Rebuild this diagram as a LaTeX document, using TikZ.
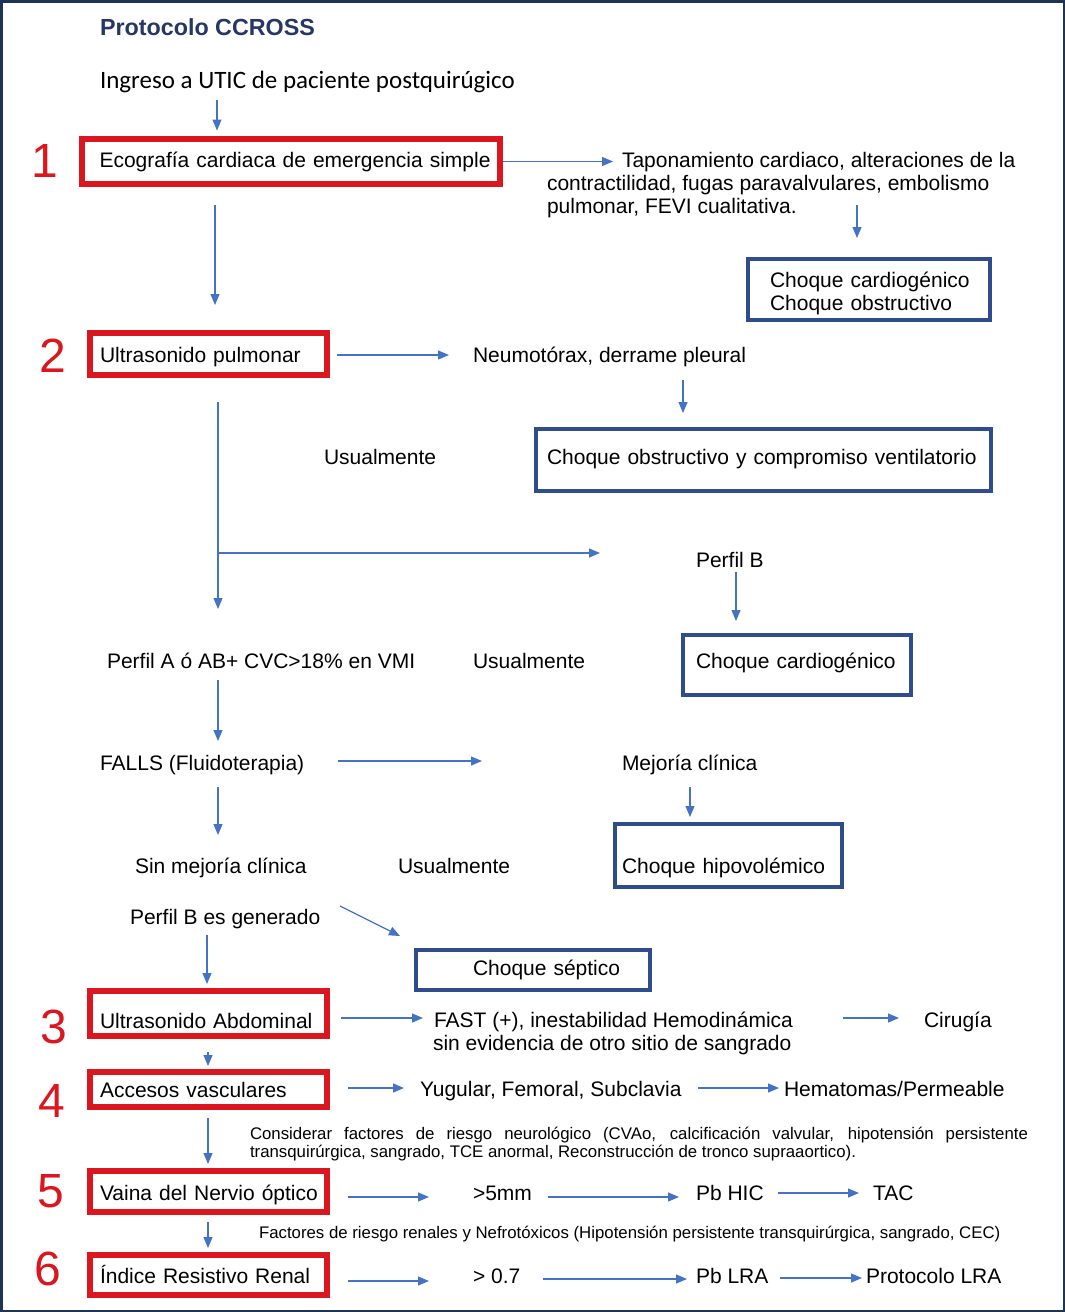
\documentclass[tikz,border=0pt]{standalone}
\usepackage{fontspec}
\setmainfont{Liberation Sans}
\newfontfamily\carlito{Carlito}
\usetikzlibrary{arrows.meta}
\definecolor{redb}{RGB}{218,22,30}
\definecolor{blueb}{RGB}{47,77,140}
\definecolor{arrc}{RGB}{68,114,196}
\definecolor{navy}{RGB}{38,55,100}
\definecolor{framec}{RGB}{30,52,85}
\begin{document}
\begin{tikzpicture}[x=1pt,y=-1pt,
  txt/.style={anchor=west, inner sep=0pt, outer sep=0pt, text height=15pt, text depth=0pt, font=\fontsize{21}{23}\selectfont},
  num/.style={anchor=base, inner sep=0pt, outer sep=0pt, text=redb, font=\fontsize{48}{48}\selectfont},
  redbox/.style={draw=redb, line width=6pt, inner ysep=0pt, outer sep=0pt, align=left, font=\fontsize{21}{23}\selectfont, text depth=0pt},
  bluebox/.style={draw=blueb, line width=4pt, inner ysep=0pt, outer sep=0pt, align=left, font=\fontsize{21}{23}\selectfont, text depth=0pt},
  smalltxt/.style={anchor=base west, inner sep=0pt, outer sep=0pt, font=\fontsize{16.8}{18}\selectfont},
  arr/.style={draw=arrc, line width=1.2pt, -{Triangle[length=11pt,width=9pt]}}
]
\useasboundingbox (0,0) rectangle (1065,1312);
\draw[framec, line width=2.5pt] (1.25,1.25) rectangle (1063.75,1310.75);

% title and entry
\node[txt, text height=16pt, font=\bfseries\fontsize{23.3}{26}\selectfont, text=navy] (title) at (100,27) {Protocolo CCROSS};
\node[txt, font=\carlito\fontsize{25}{28}\selectfont] (ing) at (100,81) {Ingreso a UTIC de paciente postquirúgico};

% numbers
\node[num] (n1) at (45,177) {1};
\node[num] (n2) at (53,372) {2};
\node[num] (n3) at (54,1043) {3};
\node[num] (n4) at (52,1117) {4};
\node[num] (n5) at (51,1207) {5};
\node[num] (n6) at (48,1285) {6};

% red boxes
\node[redbox, minimum width=418pt, minimum height=45pt, inner xsep=18pt, text width=382pt, text height=12pt] (b1) at (290.5,161.5) {\mbox{Ecografía cardiaca de emergencia simple}};
\node[redbox, minimum width=237pt, minimum height=42pt, inner xsep=10pt, text width=217pt, text height=18pt] (b2) at (208.5,353.5) {\mbox{Ultrasonido pulmonar}};
\node[redbox, minimum width=237pt, minimum height=45pt, inner xsep=10pt, text width=217pt, text height=29pt] (b3) at (208.5,1013.5) {\mbox{Ultrasonido Abdominal}};
\node[redbox, minimum width=237pt, minimum height=35pt, inner xsep=10pt, text width=217pt, text height=15pt] (b4) at (208.5,1089.5) {\mbox{Accesos vasculares}};
\node[redbox, minimum width=237pt, minimum height=41pt, inner xsep=10pt, text width=217pt, text height=19pt] (b5) at (208.5,1191) {\mbox{Vaina del Nervio óptico}};
\node[redbox, minimum width=237pt, minimum height=40pt, inner xsep=10pt, text width=217pt, text height=18pt] (b6) at (208.5,1274.5) {\mbox{Índice Resistivo Renal}};

% blue boxes
\node[bluebox, minimum width=242pt, minimum height=61pt, inner xsep=22pt, text width=198pt, text height=19pt, text depth=23pt] (c1) at (869,289.5) {\mbox{Choque cardiogénico}\\\mbox{Choque obstructivo}};
\node[bluebox, minimum width=455pt, minimum height=62pt, inner xsep=11pt, text width=433pt, text height=9pt] (c2) at (763.5,460) {\mbox{Choque obstructivo y compromiso ventilatorio}};
\node[bluebox, minimum width=228pt, minimum height=60pt, inner xsep=13pt, text width=202pt, text height=7pt] (c3) at (797,665) {\mbox{Choque cardiogénico}};
\node[bluebox, minimum width=227pt, minimum height=63pt, inner xsep=7pt, text width=213pt, text height=36pt] (c4) at (728.5,855.5) {\mbox{Choque hipovolémico}};
\node[bluebox, minimum width=234pt, minimum height=40pt, inner xsep=57pt, text width=120pt, text height=11pt] (c5) at (533,970) {\mbox{Choque séptico}};

% plain texts
\node[txt] (tap1) at (622,160) {Taponamiento cardiaco, alteraciones de la};
\node[txt] (tap2) at (547,183) {contractilidad, fugas paravalvulares, embolismo};
\node[txt] (tap3) at (547,206) {pulmonar, FEVI cualitativa.};
\node[txt] (neu) at (473,355) {Neumotórax, derrame pleural};
\node[txt] (us1) at (324,457) {Usualmente};
\node[txt] (pb) at (696,560) {Perfil B};
\node[txt] (pa) at (107,661) {Perfil A ó AB+ CVC>18\% en VMI};
\node[txt] (us2) at (473,661) {Usualmente};
\node[txt] (falls) at (100,763) {FALLS (Fluidoterapia)};
\node[txt] (mej) at (622,763) {Mejoría clínica};
\node[txt] (sin) at (135,866) {Sin mejoría clínica};
\node[txt] (us3) at (398,866) {Usualmente};
\node[txt] (pbg) at (130,917) {Perfil B es generado};
\node[txt] (fast) at (434,1020) {FAST (+), inestabilidad Hemodinámica};
\node[txt] (fastb) at (433,1043) {sin evidencia de otro sitio de sangrado};
\node[txt] (cir) at (924,1020) {Cirugía};
\node[txt] (yug) at (420,1089) {Yugular, Femoral, Subclavia};
\node[txt] (hem) at (784,1089) {Hematomas/Permeable};
\node[smalltxt, text width=778pt, align=justify] (cons) at (250,1139) {Considerar factores de riesgo neurológico (CVAo, calcificación valvular, hipotensión persistente\linebreak transquirúrgica, sangrado, TCE anormal, Reconstrucción de tronco supraaortico).};
\node[txt] (gt5) at (473,1193) {>5mm};
\node[txt] (hic) at (696,1193) {Pb HIC};
\node[txt] (tac) at (873,1193) {TAC};
\node[smalltxt] (fac) at (259,1238) {Factores de riesgo renales y Nefrotóxicos (Hipotensión persistente transquirúrgica, sangrado, CEC)};
\node[txt] (gt7) at (473,1276) {> 0.7};
\node[txt] (lra) at (696,1276) {Pb LRA};
\node[txt] (plra) at (866,1276) {Protocolo LRA};

% connectors
\draw[arr] ([shift={(117,11.5)}]ing.south west) -- ([shift={(135.5,-8.5)}]b1.north west);
\draw[arr] ([shift={(3,0)}]b1.east) -- ([shift={(-9,1.5)}]tap1.west);
\draw[arr] ([shift={(310,-8.5)}]tap3.south west) -- ([shift={(109,-21)}]c1.north west);
\draw[arr] ([shift={(133.5,20.5)}]b1.south west) -- ([shift={(125,-27.5)}]b2.north west);
\draw[arr] ([shift={(10,1.5)}]b2.east) -- ([shift={(-24,0)}]neu.west);
\draw[arr] ([shift={(210,17.5)}]neu.south west) -- ([shift={(147,-16)}]c2.north west);
\draw[arr] ([shift={(128,27.5)}]b2.south west) -- ([shift={(111,-44.5)}]pa.north west);
\draw[arr] ([shift={(128,178.5)}]b2.south west) -- ([shift={(-96,-7)}]pb.west);
\draw[arr] ([shift={(40,4.5)}]pb.south west) -- ([shift={(53,-14)}]c3.north west);
\draw[arr] ([shift={(111,11.5)}]pa.south west) -- ([shift={(118,-14.5)}]falls.north west);
\draw[arr] ([shift={(238,-2)}]falls.west) -- ([shift={(-140,-2)}]mej.west);
\draw[arr] ([shift={(68,16.5)}]mej.south west) -- ([shift={(75,-7)}]c4.north west);
\draw[arr] ([shift={(118,16.5)}]falls.south west) -- ([shift={(83,-23.5)}]sin.north west);
\draw[arr] ([shift={(210,-11)}]pbg.west) -- ([shift={(-16,-14)}]c5.north west);
\draw[arr] ([shift={(77,10.5)}]pbg.south west) -- ([shift={(117,-7)}]b3.north west);
\draw[arr] ([shift={(14,4.5)}]b3.east) -- ([shift={(-11,-2)}]fast.west);
\draw[arr] ([shift={(409,-2)}]fast.west) -- ([shift={(-25,-2)}]cir.west);
\draw[arr] ([shift={(118,16)}]b3.south west) -- ([shift={(118,-6)}]b4.north west);
\draw[arr] ([shift={(21,-1.5)}]b4.east) -- ([shift={(-16,-1)}]yug.west);
\draw[arr] ([shift={(278,-1)}]yug.west) -- ([shift={(-5,-1)}]hem.west);
\draw[arr] ([shift={(118,11)}]b4.south west) -- ([shift={(118,-6.5)}]b5.north west);
\draw[arr] ([shift={(21,6)}]b5.east) -- ([shift={(-44,4)}]gt5.west);
\draw[arr] ([shift={(75,4)}]gt5.west) -- ([shift={(-17,4)}]hic.west);
\draw[arr] ([shift={(82,0)}]hic.west) -- ([shift={(-14,0)}]tac.west);
\draw[arr] ([shift={(118,10.5)}]b5.south west) -- ([shift={(118,-6.5)}]b6.north west);
\draw[arr] ([shift={(21,6.5)}]b6.east) -- ([shift={(-44,5)}]gt7.west);
\draw[arr] ([shift={(70,3)}]gt7.west) -- ([shift={(-9,3)}]lra.west);
\draw[arr] ([shift={(84,2)}]lra.west) -- ([shift={(-4,2)}]plra.west);
\end{tikzpicture}
\end{document}
